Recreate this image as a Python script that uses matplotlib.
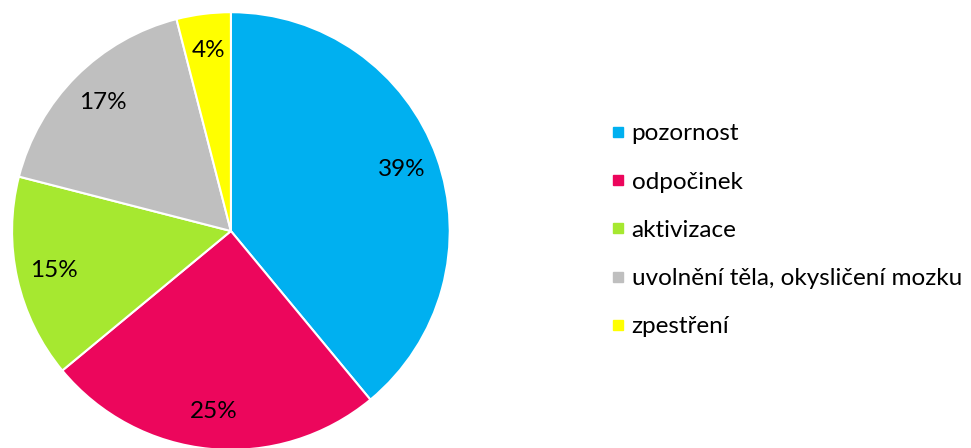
import matplotlib.pyplot as plt
from matplotlib.lines import Line2D

labels = ["pozornost", "odpočinek", "aktivizace",
          "uvolnění těla, okysličení mozku", "zpestření"]
values = [39, 25, 15, 17, 4]
colors = ["#00B0F0", "#EC065C", "#A6E830", "#BFBFBF", "#FFFF00"]

plt.rcParams['font.family'] = ['Lato', 'DejaVu Sans']

fig = plt.figure(figsize=(9.71, 4.48), dpi=100)
ax = fig.add_axes([0.0113, -0.0067, 0.453, 0.982])

wedges, texts, autotexts = ax.pie(
    values, colors=colors, startangle=90, counterclock=False,
    autopct=lambda p: f"{p:.0f}%", pctdistance=0.83,
    wedgeprops=dict(edgecolor="white", linewidth=1.5),
    textprops=dict(fontsize=17.5, color="black"))
ax.set_xlim(-1.005, 1.005)
ax.set_ylim(-1.005, 1.005)
ax.set_aspect("equal")

handles = [Line2D([], [], marker="s", linestyle="none", markersize=7,
                  markerfacecolor=c, markeredgecolor=c) for c in colors]
fig.legend(handles, labels, loc="center left", bbox_to_anchor=(0.618, 0.486),
           frameon=False, fontsize=17.5, handlelength=0.5, handletextpad=0.3,
           labelspacing=1.12, borderpad=0)

fig.savefig("out.png", dpi=100, facecolor="white")
